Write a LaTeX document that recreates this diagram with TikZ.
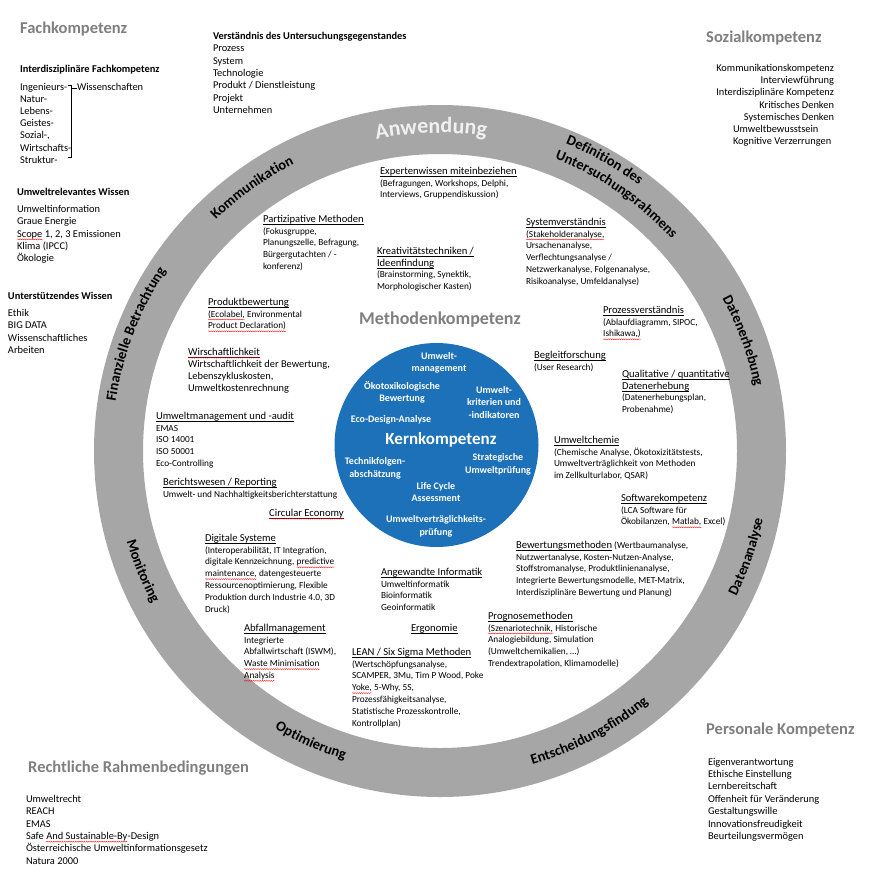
\documentclass[tikz,border=0pt]{standalone}
\usepackage{fontspec}
\setmainfont{Carlito}
\usetikzlibrary{decorations.text,decorations.pathmorphing}
\definecolor{ringgray}{RGB}{166,166,166}
\definecolor{titlegray}{RGB}{127,127,127}
\definecolor{coreblue}{RGB}{28,113,184}
\definecolor{anwgray}{RGB}{240,240,240}
\newsavebox\ulbox
\newcommand\myul[1]{\sbox\ulbox{#1}\rlap{\vrule width\wd\ulbox height -1.4pt depth 2pt}\usebox\ulbox}
\newcommand\ttlsize{\fontsize{10.6}{11.8}\selectfont}
\newcommand\ringfont{\bfseries\fontsize{14.5}{16}\selectfont}
\newcommand\anwfont{\bfseries\fontsize{22}{24}\selectfont}
\newcommand\utitle[1]{{\ttlsize\myul{#1}}}
\newcommand\spellsq[1]{\tikz[baseline=(sqw.base)]{\node[inner sep=0pt,outer sep=0pt,anchor=base] (sqw) {#1};\draw[red,line width=0.35pt,decorate,decoration={snake,amplitude=0.5pt,segment length=2.2pt}] ([yshift=-2.3pt]sqw.base west) -- ([yshift=-2.3pt]sqw.base east);}}
\newcommand\cwlabel[4]{\path[decorate,decoration={text along path,text align=center,text={|\ringfont|#4}}] (C) ++({#1+#3}:#2pt) arc[start angle={#1+#3}, end angle={#1-#3}, radius=#2pt];}
\newcommand\ccwlabel[4]{\path[decorate,decoration={text along path,text align=center,text={|\ringfont|#4}}] (C) ++({#1-#3}:#2pt) arc[start angle={#1-#3}, end angle={#1+#3}, radius=#2pt];}
\tikzset{
 blk/.style={anchor=north west, inner sep=0pt, outer sep=0pt, align=left, font=\fontsize{9.3}{11.8}\selectfont},
 lst/.style={anchor=north west, inner sep=0pt, outer sep=0pt, align=left, font=\fontsize{10.4}{12.4}\selectfont},
 lsthead/.style={lst, font=\bfseries\fontsize{10.4}{12.4}\selectfont},
 bigttl/.style={anchor=west, inner sep=0pt, font=\bfseries\fontsize{16.5}{18}\selectfont, text=titlegray},
 corettl/.style={align=center, inner sep=0pt, text=white, font=\bfseries\fontsize{10}{12.5}\selectfont},
 bracket/.style={line width=0.8pt},
}
\begin{document}
\begin{tikzpicture}[x=1pt,y=1pt]
\useasboundingbox (0,0) rectangle (886,-873);
\fill[white] (0,0) rectangle (886,-873);
\coordinate (C) at (440,-451);
% ring
\fill[ringgray, even odd rule] (C) circle[radius=346pt] (C) circle[radius=297pt];
\path[decorate,decoration={text along path,text align=center,text color=anwgray,text={|\anwfont|Anwendung}}] (C) ++(126.6:318pt) arc[start angle=126.6, end angle=56.6, radius=318pt];
\cwlabel{125.5}{322}{30}{Kommunikation}
\cwlabel{60.5}{332}{25}{Definition des}
\cwlabel{55.5}{314}{30}{Untersuchungsrahmens}
\cwlabel{20}{321}{25}{Datenerhebung}
\cwlabel{159}{328}{30}{Finanzielle Betrachtung}
\ccwlabel{341}{330}{25}{Datenanalyse}
\ccwlabel{298}{327}{30}{Entscheidungsfindung}
\ccwlabel{246}{323}{25}{Optimierung}
\ccwlabel{202}{326}{25}{Monitoring}
% core
\node[circle, fill=coreblue, minimum size=204pt, inner sep=0pt] (core) at (436.5,-445) {};
\node[corettl] (c1) at (439,-363) {Umwelt-\\management};
\node[corettl] (c2) at (402,-392.5) {Ökotoxikologische\\Bewertung};
\node[corettl] (c3) at (494,-402.5) {Umwelt-\\kriterien und\\-indikatoren};
\node[corettl] (c4) at (391,-420) {Eco-Design-Analyse};
\node[corettl, font=\bfseries\fontsize{17}{18}\selectfont] (c5) at (441,-440) {Kernkompetenz};
\node[corettl] (c6) at (375,-468.5) {Technikfolgen-\\abschätzung};
\node[corettl] (c7) at (498,-464.5) {Strategische\\Umweltprüfung};
\node[corettl] (c8) at (436,-492) {Life Cycle\\Assessment};
\node[corettl] (c9) at (436,-526.5) {Umweltverträglichkeits-\\prüfung};
\node[font=\bfseries\fontsize{18}{20}\selectfont, text=titlegray, inner sep=0pt] (methk) at (440,-320) {Methodenkompetenz};
% inner blocks
\node[blk] (expert) at (380,-167) {\utitle{Expertenwissen miteinbeziehen}\\(Befragungen, Workshops, Delphi,\\Interviews, Gruppendiskussion)};
\node[blk] (partiz) at (263,-215) {\utitle{Partizipative Methoden}\\(Fokusgruppe,\\Planungszelle, Befragung,\\Bürgergutachten / -\\konferenz)};
\node[blk] (kreativ) at (377,-247) {\utitle{Kreativitätstechniken /}\\\utitle{Ideenfindung}\\(Brainstorming, Synektik,\\Morphologischer Kasten)};
\node[blk] (system) at (526,-218) {\utitle{Systemverständnis}\\\spellsq{(Stakeholderanalyse,}\\Ursachenanalyse,\\Verflechtungsanalyse /\\Netzwerkanalyse, Folgenanalyse,\\Risikoanalyse, Umfeldanalyse)};
\node[blk] (prozess) at (603,-306) {\utitle{Prozessverständnis}\\(Ablaufdiagramm, SIPOC,\\\spellsq{Ishikawa,)}};
\node[blk] (begleit) at (534,-351) {\utitle{Begleitforschung}\\(User Research)};
\node[blk] (quali) at (622,-370) {\utitle{Qualitative / quantitative}\\\utitle{Datenerhebung}\\(Datenerhebungsplan,\\Probenahme)};
\node[blk] (produkt) at (208,-298) {\utitle{Produktbewertung}\\\spellsq{(Ecolabel,} Environmental\\\spellsq{Product Declaration)}};
\node[blk, font=\fontsize{10.4}{12}\selectfont] (wirt) at (188,-348) {\spellsq{\utitle{Wirschaftlichkeit}}\\Wirtschaftlichkeit der Bewertung,\\Lebenszykluskosten,\\Umweltkostenrechnung};
\node[blk] (umwman) at (156,-412) {\utitle{Umweltmanagement und -audit}\\EMAS\\ISO 14001\\ISO 50001\\Eco-Controlling};
\node[blk] (bericht) at (163,-478) {\utitle{Berichtswesen / Reporting}\\Umwelt- und Nachhaltigkeitsberichterstattung};
\node[blk] (circ) at (269,-509) {\spellsq{\utitle{Circular Economy}}};
\node[blk] (digi) at (205,-534) {\utitle{Digitale Systeme}\\(Interoperabilität, IT Integration,\\digitale Kennzeichnung, \spellsq{predictive}\\\spellsq{maintenance,} datengesteuerte\\Ressourcenoptimierung, Flexible\\Produktion durch Industrie 4.0, 3D\\Druck)};
\node[blk] (abfall) at (244,-624) {\utitle{Abfallmanagement}\\Integrierte\\Abfallwirtschaft (ISWM),\\\spellsq{Waste Minimisation}\\\spellsq{Analysis}};
\node[blk] (angew) at (381,-568) {\utitle{Angewandte Informatik}\\Umweltinformatik\\Bioinformatik\\Geoinformatik};
\node[blk] (ergo) at (411,-624) {\utitle{Ergonomie}};
\node[blk] (lean) at (352,-648) {\utitle{LEAN / Six Sigma Methoden}\\(Wertschöpfungsanalyse,\\SCAMPER, 3Mu, Tim P Wood, Poke\\\spellsq{Yoke,} 5-Why, 5S,\\Prozessfähigkeitsanalyse,\\Statistische Prozesskontrolle,\\Kontrollplan)};
\node[blk] (progn) at (488,-612) {\utitle{Prognosemethoden}\\\spellsq{(Szenariotechnik,} Historische\\Analogiebildung, Simulation\\(Umweltchemikalien, …)\\Trendextrapolation, Klimamodelle)};
\node[blk] (chemie) at (554,-436) {\utitle{Umweltchemie}\\(Chemische Analyse, Ökotoxizitätstests,\\Umweltverträglichkeit von Methoden\\im Zellkulturlabor, QSAR)};
\node[blk] (software) at (621,-494) {\utitle{Softwarekompetenz}\\(LCA Software für\\Ökobilanzen, \spellsq{Matlab,} Excel)};
\node[blk] (bewert) at (516,-541) {\utitle{Bewertungsmethoden} (Wertbaumanalyse,\\Nutzwertanalyse, Kosten-Nutzen-Analyse,\\Stoffstromanalyse, Produktlinienanalyse,\\Integrierte Bewertungsmodelle, MET-Matrix,\\Interdisziplinäre Bewertung und Planung)};
% outer: Fachkompetenz
\node[bigttl] (fachk) at (20,-29) {Fachkompetenz};
\node[lsthead] (interd) at (20,-65) {Interdisziplinäre Fachkompetenz};
\node[lst, font=\fontsize{10.4}{12.2}\selectfont] (disz) at (20,-83) {Ingenieurs-\\Natur-\\Lebens-\\Geistes-\\Sozial-,\\Wirtschafts-\\Struktur-};
\node[lst] (wiss) at (77,-83) {Wissenschaften};
\coordinate (brt) at (71.5,-85);
\coordinate (brb) at (71.5,-157);
\coordinate (brm) at (71.5,-88);
\draw[bracket] ([xshift=-3.5pt]brt) -- (brt) -- (brb) -- ([xshift=-3.5pt]brb);
\draw[bracket] (brm) -- (brm -| wiss.west);
\node[lsthead] (umwrel) at (17,-188) {Umweltrelevantes Wissen};
\node[lst] (umwrell) at (17,-205) {Umweltinformation\\Graue Energie\\\spellsq{Scope} 1, 2, 3 Emissionen\\Klima (IPCC)\\Ökologie};
\node[lsthead] (unterst) at (8,-292) {Unterstützendes Wissen};
\node[lst] (unterstl) at (8,-309) {Ethik\\BIG DATA\\Wissenschaftliches\\Arbeiten};
\node[lst] (verst) at (213,-32) {\textbf{Verständnis des Untersuchungsgegenstandes}\\Prozess\\System\\Technologie\\Produkt / Dienstleistung\\Projekt\\Unternehmen};
% Sozialkompetenz
\node[bigttl] (sozk) at (706,-38) {Sozialkompetenz};
\node[lst, anchor=north east, align=right, font=\fontsize{10.4}{12.3}\selectfont] (sozl) at (834,-64) {Kommunikationskompetenz\\Interviewführung\\Interdisziplinäre Kompetenz\\Kritisches Denken\\Systemisches Denken};
\node[lst] (sozl2) at (733,-125) {Umweltbewusstsein\\Kognitive Verzerrungen};
% Rechtliche
\node[bigttl] (rechtk) at (28,-768) {Rechtliche Rahmenbedingungen};
\node[lst] (rechtl) at (26,-795) {Umweltrecht\\REACH\\EMAS\\Safe \spellsq{And Sustainable-By}-Design\\Österreichische Umweltinformationsgesetz\\Natura 2000};
% Personale
\node[bigttl] (persk) at (706,-730) {Personale Kompetenz};
\node[lst] (persl) at (708,-758) {Eigenverantwortung\\Ethische Einstellung\\Lernbereitschaft\\Offenheit für Veränderung\\Gestaltungswille\\Innovationsfreudigkeit\\Beurteilungsvermögen};
\end{tikzpicture}
\end{document}
